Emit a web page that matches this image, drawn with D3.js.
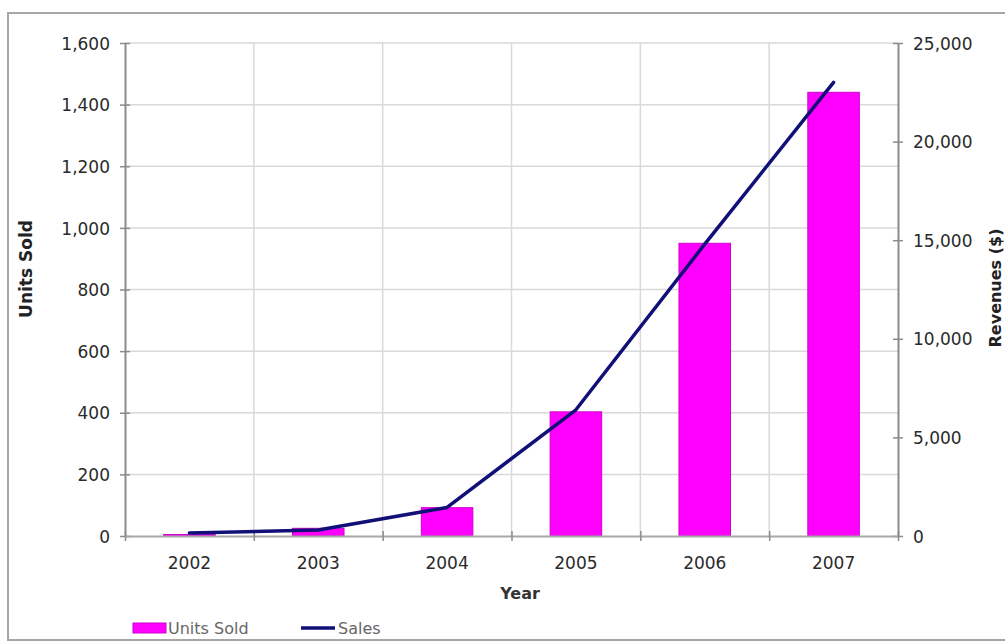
<!DOCTYPE html>
<html>
<head>
<meta charset="utf-8">
<script src="https://cdn.jsdelivr.net/npm/d3@7"></script>
<style>
  html, body { margin: 0; padding: 0; background: #fff; }
  svg { display: block; }
  text { font-family: "DejaVu Sans", Verdana, sans-serif; }
</style>
</head>
<body>
<svg id="chart" width="1005" height="641"></svg>
<script>
const years = ["2002", "2003", "2004", "2005", "2006", "2007"];
const unitsSold = [5, 25, 92, 403, 950, 1440];
const sales = [150, 300, 1450, 6400, 14800, 23000];
const unitTicks = [0, 200, 400, 600, 800, 1000, 1200, 1400, 1600];
const revenueTicks = [0, 5000, 10000, 15000, 20000, 25000];

const svg = d3.select("#chart");
const plotLeft = 125, plotRight = 898, plotTop = 43, plotBottom = 536;

// outer chart border
svg.append("rect")
  .attr("x", 8).attr("y", 13).attr("width", 1010).attr("height", 627)
  .attr("fill", "#fff").attr("stroke", "#a6a6a6").attr("stroke-width", 2);

const x = d3.scaleBand().domain(years).range([plotLeft, plotRight])
  .paddingInner(0.6).paddingOuter(0.3);
const xb = d3.scaleLinear().domain([0, years.length]).range([plotLeft, plotRight]);
const yL = d3.scaleLinear().domain([0, 1600]).range([plotBottom, plotTop]);
const yR = d3.scaleLinear().domain([0, 25000]).range([plotBottom, plotTop]);

// gridlines
const grid = svg.append("g");
grid.selectAll("line.h").data(unitTicks.slice(1)).join("line")
  .attr("class", "h")
  .attr("x1", plotLeft).attr("x2", plotRight)
  .attr("y1", d => yL(d)).attr("y2", d => yL(d))
  .attr("stroke", "#d9d9d9").attr("stroke-width", 1.5);
grid.selectAll("line.v").data(d3.range(1, years.length)).join("line")
  .attr("class", "v")
  .attr("x1", d => xb(d)).attr("x2", d => xb(d))
  .attr("y1", plotTop).attr("y2", plotBottom)
  .attr("stroke", "#d9d9d9").attr("stroke-width", 1.5);

// bars
svg.append("g").selectAll("rect").data(years).join("rect")
  .attr("x", d => x(d))
  .attr("width", x.bandwidth())
  .attr("y", (d, i) => yL(unitsSold[i]))
  .attr("height", (d, i) => plotBottom - yL(unitsSold[i]))
  .attr("fill", "#ff00ff").attr("stroke", "#d000d0").attr("stroke-width", 1);

// axes
const axisColor = "#8c8c8c";
const tickColor = "#2a2a2a";
function styleAxis(g) {
  g.select(".domain").attr("stroke", axisColor).attr("stroke-width", 2);
  g.selectAll(".tick line").attr("stroke", axisColor).attr("stroke-width", 1.5);
  g.selectAll(".tick text").attr("fill", tickColor)
    .style("font-size", "17px").style("font-family", "'DejaVu Sans', Verdana, sans-serif");
}

const gL = svg.append("g").attr("transform", `translate(${plotLeft},0)`)
  .call(d3.axisLeft(yL).tickValues(unitTicks).tickFormat(d3.format(",")).tickSize(5).tickPadding(10).tickSizeOuter(0));
gL.selectAll(".tick line").attr("x1", 5);
gL.selectAll(".tick text").attr("dy", "0.36em");
styleAxis(gL);

const gR = svg.append("g").attr("transform", `translate(${plotRight},0)`)
  .call(d3.axisRight(yR).tickValues(revenueTicks).tickFormat(d3.format(",")).tickSize(5).tickPadding(10).tickSizeOuter(0));
gR.selectAll(".tick line").attr("x1", -5);
gR.selectAll(".tick text").attr("dy", "0.36em");
styleAxis(gR);

const gB = svg.append("g").attr("transform", `translate(0,${plotBottom})`)
  .call(d3.axisBottom(xb).tickValues(d3.range(0, years.length + 1)).tickFormat("").tickSize(5).tickSizeOuter(0));
gB.selectAll(".tick line").attr("y1", -5);
styleAxis(gB);
gB.select(".domain").attr("stroke", "#a8a8a8");

const gX = svg.append("g").attr("transform", `translate(0,${plotBottom})`)
  .call(d3.axisBottom(x).tickSize(0).tickPadding(21));
gX.select(".domain").remove();
styleAxis(gX);

// sales line
const line = d3.line()
  .x((d, i) => x(years[i]) + x.bandwidth() / 2)
  .y(d => yR(d));
svg.append("path").datum(sales)
  .attr("d", line)
  .attr("fill", "none").attr("stroke", "#101078").attr("stroke-width", 3.5)
  .attr("stroke-linejoin", "round").attr("stroke-linecap", "round");

// axis titles
svg.append("text").attr("transform", "translate(32,269) rotate(-90)")
  .attr("text-anchor", "middle").attr("fill", "#222")
  .style("font-size", "17px").style("font-weight", "bold").text("Units Sold");
svg.append("text").attr("transform", "translate(1001,288) rotate(-90)")
  .attr("text-anchor", "middle").attr("fill", "#222")
  .style("font-size", "16px").style("font-weight", "bold").text("Revenues ($)");
svg.append("text").attr("x", 520).attr("y", 599)
  .attr("text-anchor", "middle").attr("fill", "#333")
  .style("font-size", "16px").style("font-weight", "bold").text("Year");

// legend
const legend = svg.append("g");
legend.append("rect").attr("x", 133).attr("y", 623).attr("width", 33).attr("height", 10)
  .attr("fill", "#ff00ff").attr("stroke", "#d000d0");
legend.append("text").attr("x", 168).attr("y", 634).attr("fill", "#666")
  .style("font-size", "16px").text("Units Sold");
legend.append("line").attr("x1", 301).attr("x2", 335).attr("y1", 628).attr("y2", 628)
  .attr("stroke", "#101078").attr("stroke-width", 3.5);
legend.append("text").attr("x", 338).attr("y", 634).attr("fill", "#666")
  .style("font-size", "16px").text("Sales");
</script>
</body>
</html>
